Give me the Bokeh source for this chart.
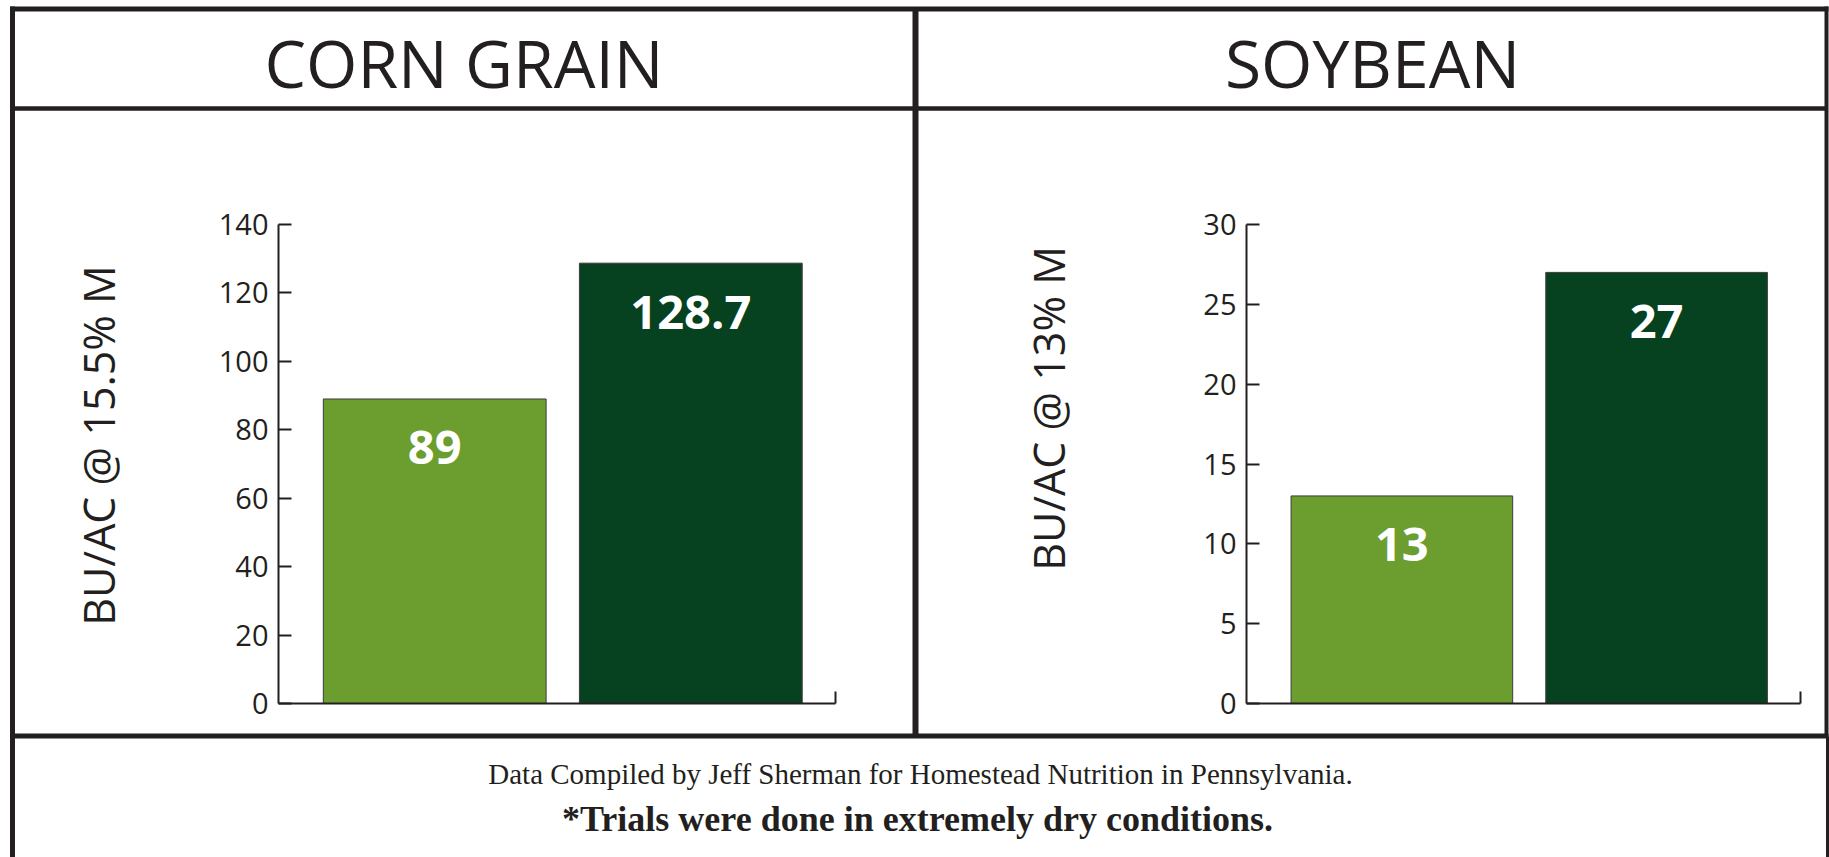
from math import pi
from bokeh.plotting import figure
from bokeh.models import Range1d, LinearAxis, FixedTicker, CustomJSTickFormatter, ColumnDataSource
from bokeh.core.properties import value
from bokeh.embed import file_html
from bokeh.resources import INLINE

# ---------------- data ----------------
groups = ["Check", "Treated"]
panel_titles = ["CORN GRAIN", "SOYBEAN"]
axis_titles = ["BU/AC @ 15.5% M", "BU/AC @ 13% M"]
corn_yield = [89, 128.7]
soy_yield = [13, 27]
corn_ticks = [0, 20, 40, 60, 80, 100, 120, 140]
soy_ticks = [0, 5, 10, 15, 20, 25, 30]
footer_note = "Data Compiled by Jeff Sherman for Homestead Nutrition in Pennsylvania."
footer_warning = "*Trials were done in extremely dry conditions."

# ---------------- style / geometry ----------------
W, H = 1829, 857
INK = "#231f20"
BAR_COLORS = ["#6b9e2f", "#06421f"]
FONT = "Open Sans"


def px(xr):
    return xr


def py(yr):
    return H - yr


p = figure(width=W, height=H, x_range=Range1d(0, W), y_range=Range1d(0, H),
           x_axis_type=None, y_axis_type=None, min_border=0,
           outline_line_color=None, toolbar_location=None, output_backend="svg",
           background_fill_color="white", border_fill_color="white")

AX_TOP, AX_BOT = 224, 703
XD0, XD1 = 0.39, 2.565
BAR_W = 0.87

panels = [
    dict(name="corn", values=corn_yield, ticks=corn_ticks, ax_x=278, ax_end=835,
         title_x=463.5, lab_x=98, lab_y=445),
    dict(name="soy", values=soy_yield, ticks=soy_ticks, ax_x=1246, ax_end=1800,
         title_x=1372, lab_x=1048, lab_y=408),
]

p.extra_x_ranges = {}
p.extra_y_ranges = {}
for i, pan in enumerate(panels):
    xname, yname = pan["name"] + "_x", pan["name"] + "_y"
    ymax = pan["ticks"][-1]
    sx = (pan["ax_end"] - pan["ax_x"]) / (XD1 - XD0)
    xs0 = XD0 - pan["ax_x"] / sx
    sy = (AX_BOT - AX_TOP) / ymax
    ys0 = 0 - (H - AX_BOT) / sy
    p.extra_x_ranges[xname] = Range1d(xs0, xs0 + W / sx)
    p.extra_y_ranges[yname] = Range1d(ys0, ys0 + H / sy)

    src = ColumnDataSource(dict(
        x=[k + 1 for k in range(len(groups))],
        top=pan["values"],
        group=groups,
        color=BAR_COLORS,
        label=[f"{v:g}" for v in pan["values"]],
    ))
    p.vbar(x="x", top="top", bottom=0, width=BAR_W, source=src, fill_color="color",
           line_color="#3c3c3c", line_width=1, x_range_name=xname, y_range_name=yname)
    p.text(x="x", y="top", text="label", source=src, text_align="center",
           text_baseline="middle", y_offset=49, text_color="white",
           text_font=value(FONT), text_font_style="bold", text_font_size="47px",
           x_range_name=xname, y_range_name=yname)

    yax = LinearAxis(y_range_name=yname, fixed_location=px(pan["ax_x"]), bounds=(0, ymax),
                     ticker=FixedTicker(ticks=pan["ticks"]),
                     axis_line_color=INK, axis_line_width=2,
                     major_tick_in=13, major_tick_out=0, major_tick_line_color=INK,
                     major_tick_line_width=2, minor_tick_line_color=None,
                     major_label_standoff=10, major_label_text_font=FONT,
                     major_label_text_font_size="29px", major_label_text_color=INK)
    p.add_layout(yax, "left")

    xax = LinearAxis(x_range_name=xname, y_range_name=yname, fixed_location=0,
                     bounds=(XD0, XD1), ticker=FixedTicker(ticks=[XD1]),
                     formatter=CustomJSTickFormatter(code="return ''"),
                     axis_line_color=INK, axis_line_width=2,
                     major_tick_in=12, major_tick_out=0, major_tick_line_color=INK,
                     major_tick_line_width=2, minor_tick_line_color=None,
                     major_label_text_color=None)
    p.add_layout(xax, "below")

# panel titles
p.text(x=[px(pan["title_x"]) for pan in panels], y=[py(61)] * len(panels), text=panel_titles,
       text_align="center", text_baseline="middle", text_color=INK,
       text_font=value(FONT), text_font_size="66px")

# axis titles (rotated)
p.text(x=[px(pan["lab_x"]) for pan in panels], y=[py(pan["lab_y"]) for pan in panels],
       text=axis_titles, angle=pi / 2, text_align="center", text_baseline="middle",
       text_color=INK, text_font=value(FONT), text_font_size="43px")

# footer notes
p.text(x=[px(920)], y=[py(773)], text=[footer_note], text_align="center",
       text_baseline="middle", text_color=INK,
       text_font=value("Liberation Serif"), text_font_size="29px")
p.text(x=[px(917)], y=[py(818)], text=[footer_warning], text_align="center",
       text_baseline="middle", text_color=INK, text_font_style="bold",
       text_font=value("Liberation Serif"), text_font_size="36px")

# frame lines
p.segment(x0=[px(9.5)], y0=[py(8.5)], x1=[px(1828)], y1=[py(8.5)], line_width=5, line_color=INK)
p.segment(x0=[px(12)], y0=[py(6)], x1=[px(12)], y1=[py(857)], line_width=5, line_color=INK)
p.segment(x0=[px(12)], y0=[py(108)], x1=[px(1826)], y1=[py(108)], line_width=4.5, line_color=INK)
p.segment(x0=[px(915)], y0=[py(8)], x1=[px(915)], y1=[py(736)], line_width=6, line_color=INK)
p.segment(x0=[px(1826)], y0=[py(6)], x1=[px(1826)], y1=[py(736)], line_width=4, line_color=INK)
p.segment(x0=[px(1827)], y0=[py(736)], x1=[px(1827)], y1=[py(857)], line_width=3, line_color=INK)
p.segment(x0=[px(9.5)], y0=[py(735.5)], x1=[px(1828)], y1=[py(735.5)], line_width=5, line_color=INK)

open("out.html", "w").write(file_html(p, INLINE))
